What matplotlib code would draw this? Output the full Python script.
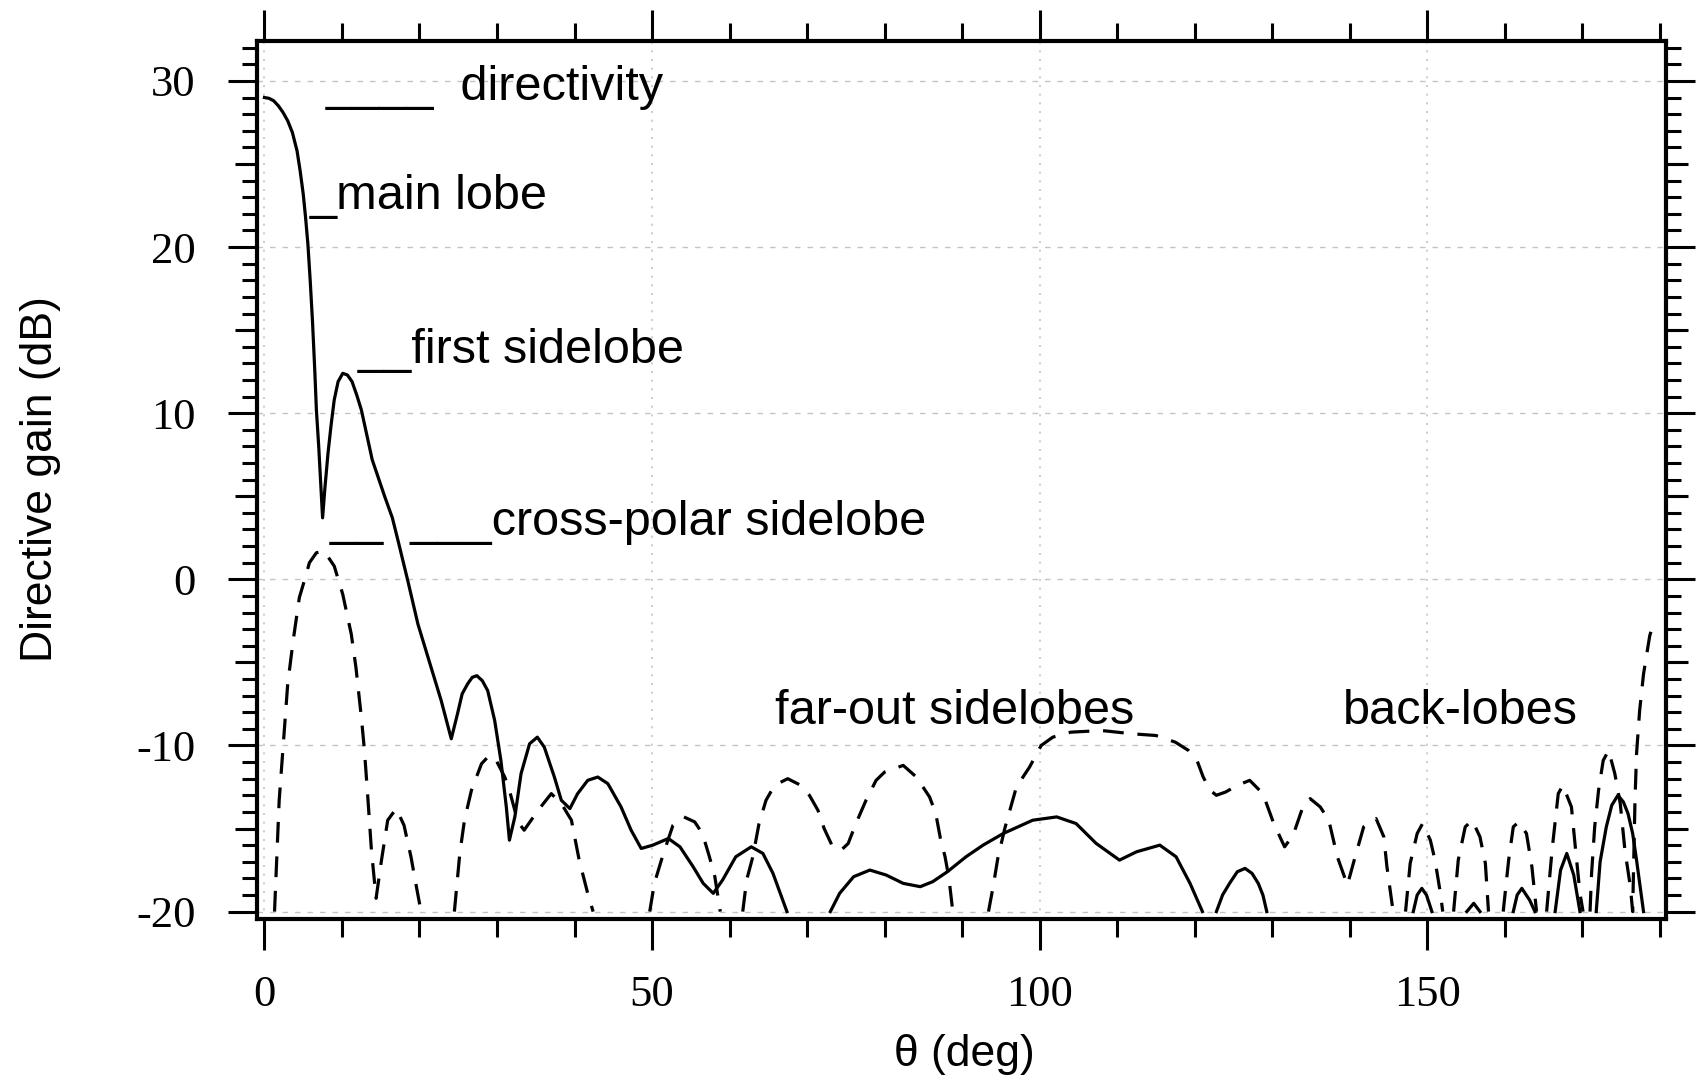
import numpy as np
import matplotlib
matplotlib.use("Agg")
import matplotlib.pyplot as plt
from matplotlib.ticker import MultipleLocator

plt.rcParams['axes.unicode_minus'] = False

nan = np.nan

# co-polar directive gain (solid), lobes separated by nan
theta_co = [0, 0.6, 1.2, 1.8, 2.4, 3.0, 3.6, 4.2, 4.6, 5.0, 5.3, 5.6, 5.9, 6.2, 6.5, 6.7, 7.0,
            7.2, 7.5, 7.8, 8.2, 8.6, 9.0, 9.5, 10.1, 10.7, 11.3, 11.9, 12.5,
            13.2, 13.9, 14.7, 15.5, 16.5, 17.3, 18.5, 19.8, 21.1, 22.8, 24.1, 24.9, 25.5, 26.2,
            26.8, 27.4, 28.1, 28.8,
            29.7, 30.5, 31.2, 31.6, 32.3, 33.1, 34.2, 35.2, 36.1, 37.4, 38.3, 39.4, 40.4,
            41.7, 43.0, 44.3, 46.0, 47.3, 48.6, 50.1, 52.1, 53.6, 55.3, 56.6, 57.9, 59.1,
            60.8, 62.8, 64.3, 65.6, 66.7, 67.4, nan,
            73.0, 74.2, 76.0, 78.1, 80.2, 82.4, 84.6, 86.2, 88.1, 90.5, 92.7, 95.3, 99.1,
            102.2, 104.7, 107.3, 110.3, 112.5, 115.5, 117.6, 119.4, 121.0, nan,
            122.8, 123.6, 124.5, 125.5, 126.5, 127.4, 128.2, 128.8, 129.3, nan,
            148.2, 148.7, 149.3, 149.9, 150.6, nan,
            155.1, 156.0, 156.8, nan,
            161.1, 161.6, 162.2, 163.2, 163.9, nan,
            166.5, 167.2, 168.0, 168.9, 169.7, nan,
            171.8, 172.3, 173.1, 173.8, 174.6, 175.3, 175.9, 176.5, 177.0, 177.9]
gain_co = [29.0, 28.95, 28.8, 28.5, 28.1, 27.6, 26.9, 25.8, 24.6, 23.2, 21.8, 20.2, 18.0, 15.5, 12.5, 10.2, 8.0,
           6.3, 3.7, 5.5, 7.6, 9.3, 10.8, 11.9, 12.4, 12.3, 11.9, 11.1, 10.2,
           8.7, 7.2, 6.1, 5.0, 3.7, 2.2, -0.1, -2.7, -4.7, -7.3, -9.6, -8.1, -6.9, -6.3,
           -5.9, -5.8, -6.1, -6.7,
           -8.5, -10.9, -13.7, -15.7, -14.3, -11.7, -9.9, -9.5, -10.1, -11.9, -13.3, -13.8, -12.9,
           -12.1, -11.9, -12.3, -13.7, -15.1, -16.2, -16.0, -15.6, -16.1, -17.3, -18.3, -18.9, -18.1,
           -16.7, -16.1, -16.5, -17.7, -19.1, -20.0, nan,
           -20.0, -18.9, -17.9, -17.5, -17.8, -18.3, -18.5, -18.2, -17.6, -16.7, -16.0, -15.3, -14.5,
           -14.3, -14.7, -15.9, -16.9, -16.4, -16.0, -16.7, -18.3, -20.0, nan,
           -20.0, -19.0, -18.3, -17.6, -17.4, -17.7, -18.3, -19.0, -20.0, nan,
           -20.0, -19.0, -18.6, -19.0, -20.0, nan,
           -20.0, -19.5, -20.0, nan,
           -20.0, -19.0, -18.6, -19.3, -20.0, nan,
           -20.0, -17.5, -16.5, -17.8, -20.0, nan,
           -20.0, -17.0, -14.9, -13.6, -13.0, -13.4, -14.1, -15.3, -16.9, -20.0]

# cross-polar directive gain (dashed)
theta_cx = [1.3, 1.9, 2.6, 3.0, 3.7, 4.5, 5.2, 5.8, 6.7, 7.7, 9.0, 10.1, 11.2, 11.8, 12.5,
            12.9, 13.3, 13.8, 14.4, 15.1, 15.9, 17.0, 18.0, 18.9, 19.6, 20.2, nan,
            24.5, 25.2, 25.8, 26.7, 28.0, 29.0, 29.9, 31.0, 31.6, 32.7, 33.5, 34.4, 35.3,
            37.0, 38.3, 39.6, 40.6, 41.7, 42.4, nan,
            49.7, 50.3, 51.4, 52.7, 54.1, 55.5, 56.5, 57.4, 58.1, 58.8, nan,
            61.7, 62.2, 63.0, 63.8, 64.7, 65.8, 67.5, 69.2, 70.3, 71.4, 72.2, 73.3, 74.4,
            75.3, 76.3, 77.6, 78.9, 80.0, 82.4, 84.1, 85.8, 86.6, 87.2, 87.8, 88.3, 88.8, nan,
            93.4, 94.0, 94.6, 95.5, 97.0, 98.7, 100.2, 101.7, 104.0, 108.0, 112.0, 115.0,
            117.5, 119.2, 120.3, 121.1, 122.0, 122.8, 124.0, 125.5, 127.1, 128.8, 130.2,
            131.6, 132.7, 134.1, 134.9, 136.2, 137.3, 138.4, 139.7, 140.7, 141.8, 143.4,
            144.4, 144.8, 145.6, nan,
            147.2, 147.8, 148.7, 149.4, 150.4, 151.0, 151.7, 152.0, nan,
            153.4, 154.0, 154.9, 155.8, 156.8, 157.5, 157.9, nan,
            159.8, 160.5, 161.1, 161.8, 162.8, 163.5, 164.1, nan,
            165.4, 166.1, 166.9, 167.5, 168.6, 169.1, 169.7, 170.1, nan,
            171.0, 171.2, 171.6, 172.1, 172.7, 173.4, 174.2, 174.9, 175.5, 176.2, 176.5,
            176.8, 177.0, 177.4, 177.9, 178.7, 179.2]
gain_cx = [-20.0, -13.3, -8.9, -6.3, -3.7, -1.1, 0.0, 1.0, 1.6, 1.7, 0.8, -0.9, -3.3, -5.3, -8.3,
           -10.3, -12.9, -16.3, -19.2, -16.9, -14.5, -13.8, -14.8, -16.7, -18.5, -20.0, nan,
           -20.0, -16.5, -14.5, -12.7, -11.1, -10.6, -10.9, -11.9, -12.7, -14.6, -15.1, -14.5, -13.9,
           -12.9, -13.5, -14.5, -16.9, -18.9, -20.0, nan,
           -20.0, -18.3, -16.6, -14.8, -14.3, -14.6, -15.3, -16.7, -17.9, -20.0, nan,
           -20.0, -18.1, -16.7, -14.7, -13.3, -12.4, -12.0, -12.4, -13.0, -13.9, -15.0, -16.1, -16.3,
           -15.9, -14.7, -13.3, -12.1, -11.6, -11.2, -11.9, -13.1, -14.1, -15.6, -16.7, -18.0, -20.0, nan,
           -20.0, -18.5, -16.8, -15.0, -12.5, -11.3, -10.0, -9.5, -9.2, -9.1, -9.3, -9.4,
           -9.8, -10.3, -10.9, -11.9, -12.7, -13.0, -12.8, -12.4, -12.1, -12.9, -14.7,
           -16.1, -15.4, -13.5, -13.2, -13.7, -14.5, -16.7, -18.4, -16.7, -14.9, -14.4,
           -15.5, -17.3, -20.0, nan,
           -20.0, -17.1, -15.3, -14.7, -15.7, -16.9, -18.9, -20.0, nan,
           -20.0, -16.9, -14.9, -14.5, -15.5, -17.1, -20.0, nan,
           -20.0, -16.9, -14.9, -14.6, -15.3, -17.3, -20.0, nan,
           -20.0, -16.3, -12.9, -12.4, -13.7, -16.1, -18.9, -20.0, nan,
           -20.0, -17.7, -14.9, -12.7, -10.9, -10.3, -11.7, -13.5, -16.3, -18.5, -20.0,
           -13.3, -10.5, -7.9, -5.7, -3.4, -2.6]

labels = ["____  directivity", "_main lobe", "__first sidelobe",
          "__  ___cross-polar sidelobe", "far-out sidelobes", "back-lobes"]
label_x = [7.85, 5.9, 12.0, 8.4, 65.8, 139.1]
label_y = [28.86, 22.3, 13.0, 2.65, -8.7, -8.7]

fig = plt.figure(figsize=(17, 10.8), dpi=100)
ax = fig.add_axes([0.151, 0.149, 0.829, 0.813])

ax.plot(theta_co, gain_co, color='black', lw=2.3)
ax.plot(theta_cx, gain_cx, color='black', lw=2.3, linestyle=(0, (6.5, 4.3)))

ax.set_xlim(-1.0, 180.8)
ax.set_ylim(-20.45, 32.4)

ax.xaxis.set_major_locator(MultipleLocator(50))
ax.xaxis.set_minor_locator(MultipleLocator(10))
ax.yaxis.set_major_locator(MultipleLocator(10))
ax.yaxis.set_minor_locator(MultipleLocator(1))

for s in ax.spines.values():
    s.set_linewidth(3)

ax.tick_params(axis='both', which='both', direction='out', top=True, right=True,
               width=2.2, color='black')
ax.tick_params(axis='x', which='major', length=22, pad=18, labelsize=32)
ax.tick_params(axis='x', which='minor', length=13)
ax.tick_params(axis='y', which='major', length=21, pad=23, labelsize=32)
ax.tick_params(axis='y', which='minor', length=11)
for t in ax.get_xticklabels() + ax.get_yticklabels():
    t.set_family('Liberation Serif')

# medium ticks at the fives
for side in ['left', 'right']:
    sec = ax.secondary_yaxis(side)
    sec.set_yticks([25, 15, 5, -5, -15])
    sec.tick_params(length=16, width=2.2, direction='out', labelleft=False, labelright=False)
    sec.spines[side].set_visible(False)

ax.set_axisbelow(True)
ax.grid(axis='y', which='major', color='#c4c4c4', linestyle=(0, (4, 5)), lw=1.0)
ax.grid(axis='x', which='major', color='#c4c4c4', linestyle=(0, (1.2, 4)), lw=1.2)

for txt, x, y in zip(labels, label_x, label_y):
    ax.text(x, y, txt, fontsize=35, family='Liberation Sans', va='baseline', ha='left')

fig.text(0.024, 0.556, 'Directive gain (dB)', rotation=90, fontsize=32,
         family='Liberation Sans', ha='center', va='center')
fig.text(0.567, 0.024, 'θ (deg)', fontsize=32, family='Liberation Sans',
         ha='center', va='center')

fig.savefig('out.png', dpi=100)
